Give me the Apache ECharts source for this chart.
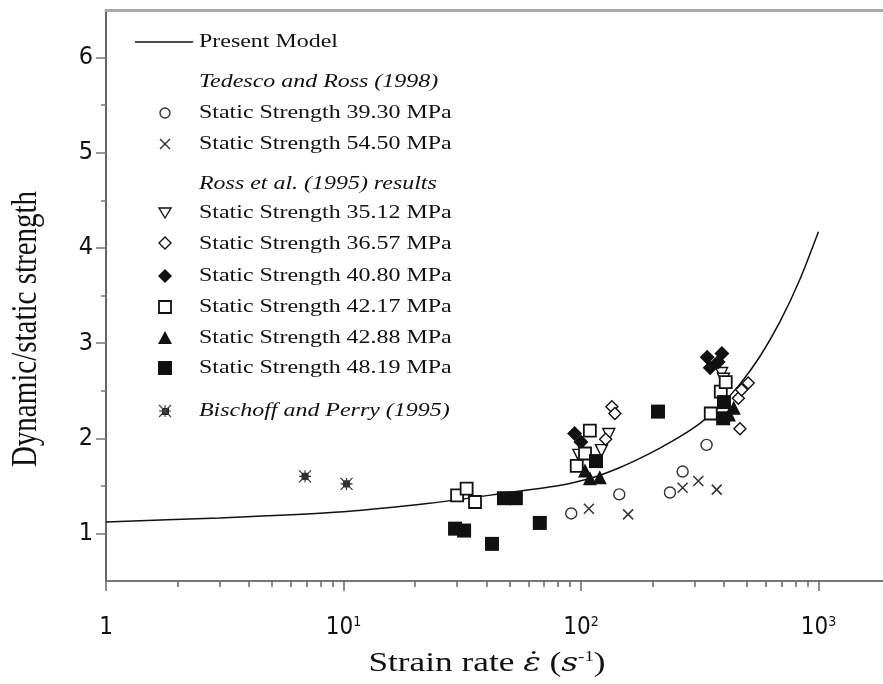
<!DOCTYPE html>
<html>
<head>
<meta charset="utf-8">
<script src="https://cdn.jsdelivr.net/npm/echarts@6/dist/echarts.min.js"></script>
<style>
  html, body { margin: 0; padding: 0; background: #fff; }
  #chart { width: 883px; height: 684px; }
</style>
</head>
<body>
<div id="chart"></div>
<script>
// Strain rate axis (log) and dynamic/static strength ratio axis
const xMax = 1870;
const xMajorTicks = [1, 10, 100, 1000];
const xMinorTicks = [2, 3, 4, 5, 6, 7, 8, 9, 20, 30, 40, 50, 60, 70, 80, 90,
                     200, 300, 400, 500, 600, 700, 800, 900];
const yMajorTicks = [1, 2, 3, 4, 5, 6];
const yMinorTicks = [1.5, 2.5, 3.5, 4.5, 5.5];

// Present model curve
const modelRate  = [1, 3, 10, 23, 50, 82, 115, 145, 177, 215, 261, 320, 385, 467, 567, 688, 836, 1000];
const modelRatio = [1.12, 1.163, 1.228, 1.316, 1.43, 1.505, 1.595, 1.69, 1.789, 1.897, 2.016, 2.165, 2.34, 2.569, 2.859, 3.222, 3.671, 4.17];

// Tedesco and Ross (1998)
const tedesco3930 = [[91, 1.21], [145, 1.41], [237, 1.43], [268, 1.65], [338, 1.93]];
const tedesco5450 = [[108, 1.26], [158, 1.20], [268, 1.48], [312, 1.55], [373, 1.46]];

// Ross et al. (1995)
const ross3512 = [[98, 1.82], [122, 1.87], [131, 2.04], [391, 2.68], [398, 2.62]];
const ross3657 = [[127, 1.99], [135, 2.33], [139, 2.26], [460, 2.42], [475, 2.51], [506, 2.58], [467, 2.10]];
const ross4080 = [[94, 2.05], [100, 1.96], [340, 2.85], [392, 2.89], [350, 2.74], [378, 2.80]];
const ross4217 = [[30.1, 1.40], [33.0, 1.47], [35.8, 1.33], [96, 1.71], [109, 2.08], [104, 1.84], [352, 2.26], [388, 2.49], [407, 2.59]];
const ross4288 = [[104, 1.66], [109, 1.58], [120, 1.59], [440, 2.32], [420, 2.25]];
const ross4819 = [[29.5, 1.05], [32.2, 1.03], [42.2, 0.89], [47.4, 1.37], [53.2, 1.37], [67.1, 1.11], [115.7, 1.76], [211, 2.28], [400, 2.38], [397, 2.21]];

// Bischoff and Perry (1995)
const bischoff = [[6.89, 1.60], [10.3, 1.52]];

// Legend rows
const legendModel = 'Present Model';
const legendHeadTedesco = 'Tedesco and Ross (1998)';
const legendHeadRoss = 'Ross et al. (1995) results';
const legendStatic = ['Static Strength 39.30 MPa', 'Static Strength 54.50 MPa'];
const legendRoss = ['Static Strength 35.12 MPa', 'Static Strength 36.57 MPa', 'Static Strength 40.80 MPa',
                    'Static Strength 42.17 MPa', 'Static Strength 42.88 MPa', 'Static Strength 48.19 MPa'];
const legendBischoff = 'Bischoff and Perry (1995)';

const SERIF = '"Liberation Serif", "Times New Roman", serif';
const NARROW = '"Liberation Sans Narrow", "DejaVu Sans Condensed", "Liberation Sans", sans-serif';
const INK = '#111';
const WIDE = 1.26;   // horizontal stretch of the serif text

const crossPath = 'path://M0,0L10,10M10,0L0,10';
const starPath = 'path://M3,3L9,3L9,9L3,9Z M0,0L12,12 M12,0L0,12 M6,0L6,12 M0,6L12,6';

function scatter(name, data, symbol, size, style, extra) {
  return Object.assign({
    name, type: 'scatter', data, symbol, symbolSize: size,
    itemStyle: Object.assign({ opacity: 1 }, style),
    emphasis: { disabled: true },
    z: 3
  }, extra || {});
}

const chart = echarts.init(document.getElementById('chart'), null, { renderer: 'canvas' });

// legend drawn as graphic rows
const LX_SYM = 165, LX_TXT = 199;
const legendGraphics = [];
function legendText(y, text, italic) {
  legendGraphics.push({
    type: 'text', x: LX_TXT, y: y, scaleX: WIDE,
    style: { text, font: (italic ? 'italic ' : '') + '19px ' + SERIF, fill: INK, verticalAlign: 'middle' }
  });
}
// Present model line
legendGraphics.push({ type: 'line', shape: { x1: 135, y1: 42, x2: 193, y2: 42 }, style: { stroke: INK, lineWidth: 1.3 } });
legendText(42, legendModel, false);
legendText(82, legendHeadTedesco, true);
// circle
legendGraphics.push({ type: 'circle', shape: { cx: LX_SYM, cy: 113, r: 5 }, style: { fill: '#fff', stroke: '#333', lineWidth: 1.4 } });
legendText(113, legendStatic[0], false);
// cross
legendGraphics.push({ type: 'polyline', shape: { points: [[LX_SYM - 5, 139], [LX_SYM + 5, 149]] }, style: { stroke: '#333', lineWidth: 1.4 } });
legendGraphics.push({ type: 'polyline', shape: { points: [[LX_SYM + 5, 139], [LX_SYM - 5, 149]] }, style: { stroke: '#333', lineWidth: 1.4 } });
legendText(144, legendStatic[1], false);
legendText(184, legendHeadRoss, true);
// open down triangle
legendGraphics.push({ type: 'polygon', shape: { points: [[LX_SYM - 6, 208], [LX_SYM + 6, 208], [LX_SYM, 218]] }, style: { fill: '#fff', stroke: INK, lineWidth: 1.4 } });
legendText(213, legendRoss[0], false);
// open diamond
legendGraphics.push({ type: 'polygon', shape: { points: [[LX_SYM, 237], [LX_SYM + 6, 243], [LX_SYM, 249], [LX_SYM - 6, 243]] }, style: { fill: '#fff', stroke: INK, lineWidth: 1.4 } });
legendText(244, legendRoss[1], false);
// filled diamond
legendGraphics.push({ type: 'polygon', shape: { points: [[LX_SYM, 269], [LX_SYM + 7, 276], [LX_SYM, 283], [LX_SYM - 7, 276]] }, style: { fill: INK } });
legendText(276, legendRoss[2], false);
// open square
legendGraphics.push({ type: 'rect', shape: { x: LX_SYM - 6, y: 301, width: 12, height: 12 }, style: { fill: '#fff', stroke: INK, lineWidth: 1.8 } });
legendText(307, legendRoss[3], false);
// filled triangle
legendGraphics.push({ type: 'polygon', shape: { points: [[LX_SYM, 331], [LX_SYM + 7, 344], [LX_SYM - 7, 344]] }, style: { fill: INK } });
legendText(338, legendRoss[4], false);
// filled square
legendGraphics.push({ type: 'rect', shape: { x: LX_SYM - 7, y: 361, width: 14, height: 14 }, style: { fill: INK } });
legendText(368, legendRoss[5], false);
// asterisk square
legendGraphics.push({ type: 'rect', shape: { x: LX_SYM - 3, y: 408, width: 7, height: 7 }, style: { fill: INK } });
[[[-6, -6], [6, 6]], [[6, -6], [-6, 6]], [[0, -6], [0, 6]], [[-6, 0], [6, 0]]].forEach(p => {
  legendGraphics.push({ type: 'polyline', shape: { points: [[LX_SYM + p[0][0], 411 + p[0][1]], [LX_SYM + p[1][0], 411 + p[1][1]]] }, style: { stroke: '#444', lineWidth: 1.2 } });
});
legendText(411, legendBischoff, true);

// axis titles
legendGraphics.push({
  type: 'text', x: 26, y: 329, rotation: Math.PI / 2, scaleY: WIDE,
  style: { text: 'Dynamic/static strength', font: '29px ' + SERIF, fill: INK, align: 'center', verticalAlign: 'middle' }
});
legendGraphics.push({
  type: 'text', x: 487, y: 664, scaleX: WIDE,
  style: {
    text: '{n|Strain rate }{e|\u03B5\u0307}{n| (}{e|s}{s|-1}{n|)}',
    align: 'center', verticalAlign: 'middle',
    rich: {
      n: { font: '28px ' + SERIF, fill: INK },
      e: { font: 'italic 26px "DejaVu Serif", serif', fill: INK },
      s: { font: '15px ' + SERIF, fill: INK, verticalAlign: 'top' }
    }
  }
});

const option = {
  animation: false,
  backgroundColor: '#fff',
  grid: { left: 106, right: 0, top: 10, bottom: 103 },
  xAxis: [
    {
      type: 'log', logBase: 10, min: 1, max: xMax, position: 'bottom',
      axisLine: { lineStyle: { color: '#777', width: 2 } },
      axisTick: { customValues: xMajorTicks, length: 10, lineStyle: { color: '#666', width: 1.5 } },
      axisLabel: {
        customValues: xMajorTicks, margin: 34,
        formatter: v => v === 1 ? '{b|1}' : '{b|10}{s|' + Math.round(Math.log10(v)) + '}',
        rich: {
          b: { fontFamily: NARROW, fontSize: 24, color: INK, lineHeight: 26 },
          s: { fontFamily: NARROW, fontSize: 14, color: INK, verticalAlign: 'top', lineHeight: 26 }
        }
      },
      splitLine: { show: false }, minorTick: { show: false }
    },
    {
      type: 'log', logBase: 10, min: 1, max: xMax, position: 'bottom',
      axisLine: { show: false },
      axisTick: { customValues: xMinorTicks, length: 6, lineStyle: { color: '#666', width: 1.5 } },
      axisLabel: { show: false }, splitLine: { show: false }
    },
    {
      type: 'log', logBase: 10, min: 1, max: xMax, position: 'top',
      axisLine: { lineStyle: { color: '#aaa', width: 3 } },
      axisTick: { show: false }, axisLabel: { show: false }, splitLine: { show: false }
    }
  ],
  yAxis: [
    {
      type: 'value', min: 0.5, max: 6.5, position: 'left',
      axisLine: { show: true, lineStyle: { color: '#666', width: 2 } },
      axisTick: { show: true, customValues: yMajorTicks, length: 10, lineStyle: { color: '#777', width: 1.5 } },
      axisLabel: { customValues: yMajorTicks, margin: 13, fontFamily: NARROW, fontSize: 25, color: INK },
      splitLine: { show: false }
    },
    {
      type: 'value', min: 0.5, max: 6.5, position: 'left',
      axisLine: { show: false },
      axisTick: { show: true, customValues: yMinorTicks, length: 5, lineStyle: { color: '#777', width: 1.5 } },
      axisLabel: { show: false }, splitLine: { show: false }
    }
  ],
  series: [
    {
      name: legendModel, type: 'line', smooth: 0.25, showSymbol: false,
      data: modelRate.map((r, i) => [r, modelRatio[i]]),
      lineStyle: { color: INK, width: 1.5 }, z: 2, emphasis: { disabled: true }
    },
    scatter(legendStatic[0], tedesco3930, 'circle', 11, { color: '#fff', borderColor: '#333', borderWidth: 1.4 }),
    scatter(legendStatic[1], tedesco5450, crossPath, 10, { color: 'none', borderColor: '#333', borderWidth: 1.5 }),
    scatter(legendRoss[0], ross3512, 'triangle', 12, { color: '#fff', borderColor: INK, borderWidth: 1.4 }, { symbolRotate: 180 }),
    scatter(legendRoss[1], ross3657, 'diamond', 12, { color: '#fff', borderColor: INK, borderWidth: 1.4 }),
    scatter(legendRoss[2], ross4080, 'diamond', 15, { color: INK }),
    scatter(legendRoss[3], ross4217, 'rect', 12, { color: '#fff', borderColor: INK, borderWidth: 1.8 }),
    scatter(legendRoss[4], ross4288, 'triangle', 14, { color: INK }),
    scatter(legendRoss[5], ross4819, 'rect', 14, { color: INK }),
    scatter(legendBischoff, bischoff, starPath, 12, { color: INK, borderColor: '#333', borderWidth: 1.2 })
  ],
  graphic: legendGraphics
};

chart.setOption(option);
</script>
</body>
</html>
